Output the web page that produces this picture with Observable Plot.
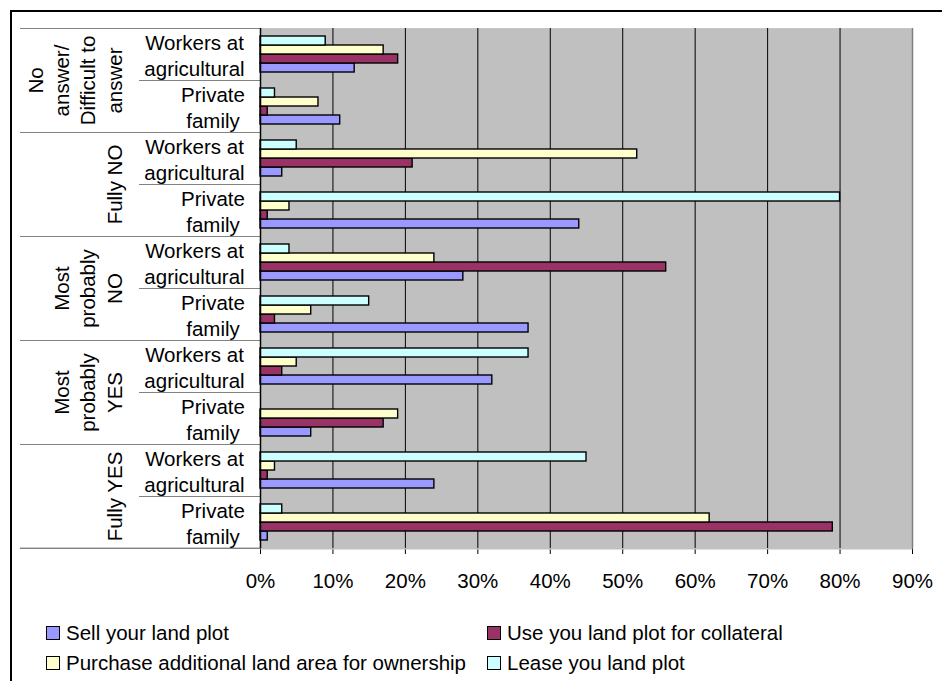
<!DOCTYPE html>
<html>
<head>
<meta charset="utf-8">
<script src="https://cdn.jsdelivr.net/npm/d3@7"></script>
<script src="https://cdn.jsdelivr.net/npm/@observablehq/plot@0.6"></script>
<style>
  html, body { margin: 0; padding: 0; background: #fff; }
  body { width: 942px; height: 681px; position: relative; overflow: hidden;
         font-family: "Liberation Sans", Arial, sans-serif; }
  #frame { position: absolute; left: 10px; top: 10px; width: 1000px; height: 1000px;
           border: 2px solid #000; box-sizing: border-box; pointer-events: none; }
  #chart { position: absolute; left: 0; top: 0; }
  .leg { position: absolute; font-size: 20.5px; line-height: 24px; color: #000; white-space: nowrap; }
  .leg .sw { position: absolute; left: 0; top: 5px; width: 12px; height: 12px; border: 1px solid #000; }
  .leg .tx { position: absolute; left: 20px; top: 0; }
</style>
</head>
<body>
<div id="chart"></div>
<div id="frame"></div>
<div id="legend"></div>
<script>
// ---- data ----
const groups = ["No answer/Difficult to answer", "Fully NO", "Most probably NO", "Most probably YES", "Fully YES"];
const groupLabels = ["No\nanswer/\nDifficult to\nanswer", "Fully NO", "Most\nprobably\nNO", "Most\nprobably\nYES", "Fully YES"];
const subgroups = ["Workers at agricultural", "Private family"];
const subgroupLabels = ["Workers at\nagricultural", "Private\nfamily"];
const seriesNames = ["Sell your land plot", "Use you land plot for collateral", "Purchase additional land area for ownership", "Lease you land plot"];
const seriesColors = ["#9999FF", "#993366", "#FFFFCC", "#CCFFFF"];
// values in %, rows ordered: for each group (top->bottom) Workers, then Private family
const sell     = [13, 11,  3, 44, 28, 37, 32,  7, 24,  1];
const use      = [19,  1, 21,  1, 56,  2,  3, 17,  1, 79];
const purchase = [17,  8, 52,  4, 24,  7,  5, 19,  2, 62];
const lease    = [ 9,  2,  5, 80,  4, 15, 37,  0, 45,  3];
const xTicks = [0, 0.1, 0.2, 0.3, 0.4, 0.5, 0.6, 0.7, 0.8, 0.9];
const gridTicks = [0.1, 0.2, 0.3, 0.4, 0.5, 0.6, 0.7, 0.8];

// ---- build tables ----
const seriesValues = [sell, use, purchase, lease];
const keys = groups.flatMap(g => subgroups.map(s => g + "|" + s));
const rows = keys.map((key, i) => ({
  key,
  group: groups[Math.floor(i / 2)],
  groupLabel: groupLabels[Math.floor(i / 2)],
  sub: subgroups[i % 2],
  subLabel: subgroupLabels[i % 2]
}));
const bars = [];
seriesNames.forEach((s, si) => {
  seriesValues[si].forEach((v, i) => {
    if (v > 0) bars.push({key: keys[i], series: s, value: v / 100});
  });
});
const workerRows = rows.filter(r => r.sub === subgroups[0]);
const privateRows = rows.filter(r => r.sub === subgroups[1]);
const topRow = rows.slice(0, 1);
const lastRow = rows.slice(-1);

// ---- layout ----
const W = 942, H = 605, ML = 260, MR = 30, MT = 25, MB = 54;
const PLOT_W = W - ML - MR;
const BAND = (H - MT - MB) / keys.length;
const SEP = "#303030";
const FS = 20.5;

const chart = Plot.plot({
  width: W, height: H,
  marginLeft: ML, marginRight: MR, marginTop: MT, marginBottom: MB,
  style: {fontSize: FS + "px", fontFamily: "Liberation Sans, Arial, sans-serif", color: "#000", background: "none", overflow: "visible"},
  x: {domain: [0, 0.9], ticks: xTicks, tickFormat: d3.format(".0%"), tickSize: 6, tickPadding: 19, label: null, line: true},
  y: {domain: ["Lease you land plot", "Purchase additional land area for ownership", "Use you land plot for collateral", "Sell your land plot"],
      paddingInner: 0, paddingOuter: 0.74, axis: null},
  fy: {domain: keys, padding: 0, axis: null},
  color: {domain: seriesNames, range: seriesColors},
  marks: [
    // plot background
    Plot.frame({fill: "#C0C0C0", stroke: null, insetBottom: -1}),
    Plot.rect(lastRow, {fy: "key", fill: "#fff", insetTop: BAND}),
    // top border of plot area
    Plot.rect(topRow, {fy: "key", fill: "#A0A0A0", insetBottom: BAND - 1}),
    // gridlines
    Plot.ruleX(gridTicks, {stroke: "#000", strokeWidth: 1}),
    Plot.ruleX([0.9], {stroke: "#808080", strokeWidth: 1.5}),
    // bars
    Plot.barX(bars, {fy: "key", y: "series", x: "value", fill: "series", stroke: "#000", strokeWidth: 1.4}),
    // category separators
    Plot.rect(privateRows, {fy: "key", fill: SEP, insetLeft: -121, insetRight: PLOT_W, insetBottom: BAND - 1.2}),
    Plot.rect(workerRows, {fy: "key", fill: SEP, insetLeft: -240, insetRight: PLOT_W, insetBottom: BAND - 1.2}),
    Plot.rect(lastRow, {fy: "key", fill: "#808080", insetLeft: -240, insetRight: PLOT_W, insetTop: BAND - 1, insetBottom: -1}),
    // value axis line at 0
    Plot.ruleX([0], {stroke: "#000", strokeWidth: 1.5}),
    // inner category labels
    Plot.text(workerRows, {fy: "key", text: "subLabel", frameAnchor: "left", dx: -66, textAnchor: "middle",
      lineAnchor: "middle", lineHeight: 1.27, fontSize: FS, fill: "#000"}),
    Plot.text(privateRows, {fy: "key", text: "subLabel", frameAnchor: "left", dx: -47.5, textAnchor: "middle",
      lineAnchor: "middle", lineHeight: 1.27, fontSize: FS, fill: "#000"}),
    // outer category labels (rotated)
    Plot.text(workerRows, {fy: "key", text: "groupLabel", frameAnchor: "bottom-left", dx: -139, rotate: -90,
      textAnchor: "middle", lineAnchor: "bottom", lineHeight: 1.27, fontSize: FS, fill: "#000"})
  ]
});
document.getElementById("chart").appendChild(chart);

// ---- legend ----
const legend = document.getElementById("legend");
const legPos = [
  {left: 46, top: 621}, {left: 487, top: 621},
  {left: 46, top: 651}, {left: 487, top: 651}
];
seriesNames.forEach((s, i) => {
  const d = document.createElement("div");
  d.className = "leg";
  d.style.left = legPos[i].left + "px";
  d.style.top = legPos[i].top + "px";
  const sw = document.createElement("span");
  sw.className = "sw";
  sw.style.background = seriesColors[i];
  const tx = document.createElement("span");
  tx.className = "tx";
  tx.textContent = s;
  d.appendChild(sw); d.appendChild(tx);
  legend.appendChild(d);
});
</script>
</body>
</html>
